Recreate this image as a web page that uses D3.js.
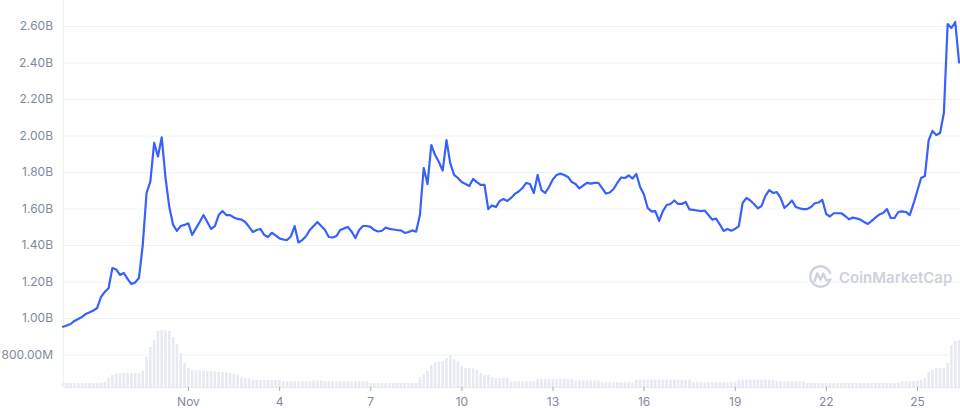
<!DOCTYPE html>
<html><head><meta charset="utf-8">
<script src="https://cdn.jsdelivr.net/npm/d3@7"></script>
<style>
body{margin:0;background:#fff;overflow:hidden;}
svg{display:block;font-family:Inter,"Noto Sans",sans-serif;}
</style>
</head><body>
<svg id="chart" width="960" height="408"></svg>
<script>
// ---- data ----
const startTime = "2021-10-27T21:15:00Z";
const stepHours = 3;
// market cap / price series, billions
const price = [
0.952,0.959,0.967,0.984,0.995,1.006,1.022,1.031,1.041,1.055,
1.115,1.143,1.163,1.274,1.266,1.236,1.247,1.214,1.186,1.195,
1.219,1.400,1.685,1.747,1.960,1.885,1.990,1.767,1.608,1.510,
1.477,1.504,1.510,1.519,1.455,1.491,1.526,1.564,1.526,1.488,
1.504,1.564,1.586,1.564,1.564,1.551,1.543,1.539,1.526,1.499,
1.471,1.482,1.488,1.455,1.444,1.467,1.453,1.436,1.430,1.427,
1.447,1.504,1.414,1.427,1.448,1.482,1.504,1.526,1.504,1.482,
1.444,1.441,1.449,1.482,1.491,1.499,1.474,1.438,1.482,1.504,
1.504,1.499,1.482,1.474,1.478,1.496,1.488,1.485,1.482,1.480,
1.466,1.471,1.480,1.473,1.564,1.822,1.734,1.948,1.893,1.855,
1.808,1.975,1.847,1.784,1.767,1.745,1.734,1.723,1.762,1.745,
1.729,1.730,1.597,1.617,1.608,1.641,1.652,1.641,1.658,1.680,
1.693,1.712,1.740,1.734,1.685,1.784,1.701,1.685,1.718,1.759,
1.784,1.791,1.784,1.773,1.745,1.734,1.710,1.726,1.740,1.736,
1.740,1.740,1.712,1.682,1.688,1.707,1.740,1.770,1.767,1.781,
1.764,1.789,1.718,1.677,1.603,1.584,1.586,1.532,1.586,1.619,
1.625,1.644,1.625,1.625,1.636,1.595,1.592,1.589,1.586,1.589,
1.564,1.539,1.545,1.512,1.477,1.488,1.478,1.488,1.504,1.630,
1.658,1.644,1.625,1.601,1.614,1.669,1.701,1.685,1.690,1.658,
1.603,1.622,1.644,1.608,1.601,1.597,1.597,1.608,1.629,1.633,
1.647,1.570,1.556,1.574,1.574,1.574,1.559,1.541,1.550,1.546,
1.539,1.526,1.515,1.532,1.551,1.567,1.575,1.597,1.548,1.548,
1.581,1.584,1.581,1.564,1.625,1.696,1.767,1.778,1.975,2.025,
2.003,2.014,2.123,2.611,2.589,2.622,2.400
];
// volume, millions
const volume = [
40,40,40,40,40,40,40,40,38,40,
45,55,90,120,135,135,140,140,138,138,
135,160,300,400,470,560,570,565,560,500,
430,340,240,190,170,165,165,165,160,160,
155,150,150,145,140,135,125,95,90,85,
70,70,70,70,70,70,70,70,56,56,
56,56,56,56,56,56,66,66,66,56,
56,56,56,56,56,56,56,56,56,56,
56,40,40,40,40,40,40,40,40,40,
40,40,40,40,100,130,160,220,245,256,
260,290,320,280,256,210,190,190,185,170,
140,120,120,100,90,90,90,90,56,56,
56,56,56,56,56,83,83,83,83,83,
83,83,83,83,83,66,66,66,66,66,
66,66,46,46,46,46,46,46,46,46,
46,73,73,73,73,73,73,73,73,73,
73,73,73,73,73,73,46,46,46,46,
46,46,46,46,46,46,46,46,73,73,
73,73,73,73,73,73,73,73,56,56,
56,56,56,56,56,56,40,40,40,40,
40,40,40,40,40,40,40,40,40,40,
40,40,40,40,40,40,40,40,40,40,
40,56,56,56,56,65,75,90,150,170,
190,190,195,240,420,460,470
];
const yTickValues = [0.8,1.0,1.2,1.4,1.6,1.8,2.0,2.2,2.4,2.6];
const yTickLabels = ["800.00M","1.00B","1.20B","1.40B","1.60B","1.80B","2.00B","2.20B","2.40B","2.60B"];
const xTickDates = ["2021-11-01","2021-11-04","2021-11-07","2021-11-10","2021-11-13","2021-11-16","2021-11-19","2021-11-22","2021-11-25"];
const xTickLabels = ["Nov","4","7","10","13","16","19","22","25"];
const xDomain = ["2021-10-27T21:14:00Z","2021-11-26T10:00:00Z"];

// ---- build ----
const t0 = new Date(startTime).getTime();
const series = price.map((v,i)=>({t:new Date(t0+i*stepHours*3600e3), p:v, vol:volume[i]}));

const svg = d3.select("#chart");
const left = 63, right = 960, baseY = 387;

const x = d3.scaleUtc().domain(xDomain.map(d=>new Date(d))).range([left,right]);
const y = d3.scaleLinear().domain([0.8,2.6]).range([354.5,26]);
const yVol = d3.scaleLinear().domain([0,600]).range([baseY,327]);

// volume bars
svg.append("g").selectAll("rect").data(series).join("rect")
  .attr("x", d=>x(d.t)-1.3).attr("width",2.6)
  .attr("y", d=>yVol(d.vol)).attr("height", d=>baseY-yVol(d.vol))
  .attr("fill","#e7eaf1");

// y axis with gridlines
const yAxis = d3.axisLeft(y).tickValues(yTickValues)
  .tickFormat((d,i)=>yTickLabels[i]).tickSize(-(right-left)).tickPadding(10);
const gy = svg.append("g").attr("transform",`translate(${left},0)`).call(yAxis);
gy.select(".domain").remove();
gy.selectAll(".tick line").attr("stroke","#eff2f5").attr("stroke-width",1);
gy.selectAll(".tick text").attr("fill","#808a9d").style("font-size","12px").style("font-family","Inter,'Noto Sans',sans-serif");

// left axis line
svg.append("line").attr("x1",left+0.5).attr("x2",left+0.5).attr("y1",0).attr("y2",baseY)
  .attr("stroke","#eceff3");

// x axis
const xAxis = d3.axisBottom(x).tickValues(xTickDates.map(d=>new Date(d+"T00:00:00Z")))
  .tickFormat((d,i)=>xTickLabels[i]).tickSize(4).tickSizeOuter(0).tickPadding(6);
const gx = svg.append("g").attr("transform",`translate(0,${baseY})`).call(xAxis);
gx.select(".domain").attr("stroke","#e6e9ee");
gx.selectAll(".tick line").attr("stroke","#a6adbb");
gx.selectAll(".tick text").attr("fill","#808a9d").style("font-size","12px").style("font-family","Inter,'Noto Sans',sans-serif");

// watermark
const wm = svg.append("g").attr("fill","none").attr("stroke","#cdd2dc").attr("stroke-width",2.4)
  .attr("transform","translate(820.5,276.5)");
wm.append("path").attr("d", d3.arc()({innerRadius:10.2,outerRadius:10.2,startAngle:Math.PI*0.62,endAngle:Math.PI*2.42}));
wm.append("path").attr("stroke-linejoin","round").attr("stroke-linecap","round")
  .attr("d","M-6,4.5 L-3.2,-3.2 L0,3.2 L2.8,-3 L5.2,2.6 Q7,5 10,3");
svg.append("text").attr("x",839).attr("y",282.5).text("CoinMarketCap")
  .attr("fill","#cdd2dc").style("font-size","15px").style("font-weight","600")
  .style("font-family","Inter,'Noto Sans',sans-serif");

// price line
const line = d3.line().x(d=>x(d.t)).y(d=>y(d.p)).curve(d3.curveLinear);
svg.append("path").datum(series).attr("d",line)
  .attr("fill","none").attr("stroke","#3861fb").attr("stroke-width",2.2)
  .attr("stroke-linejoin","round").attr("stroke-linecap","round");
</script>
</body></html>
